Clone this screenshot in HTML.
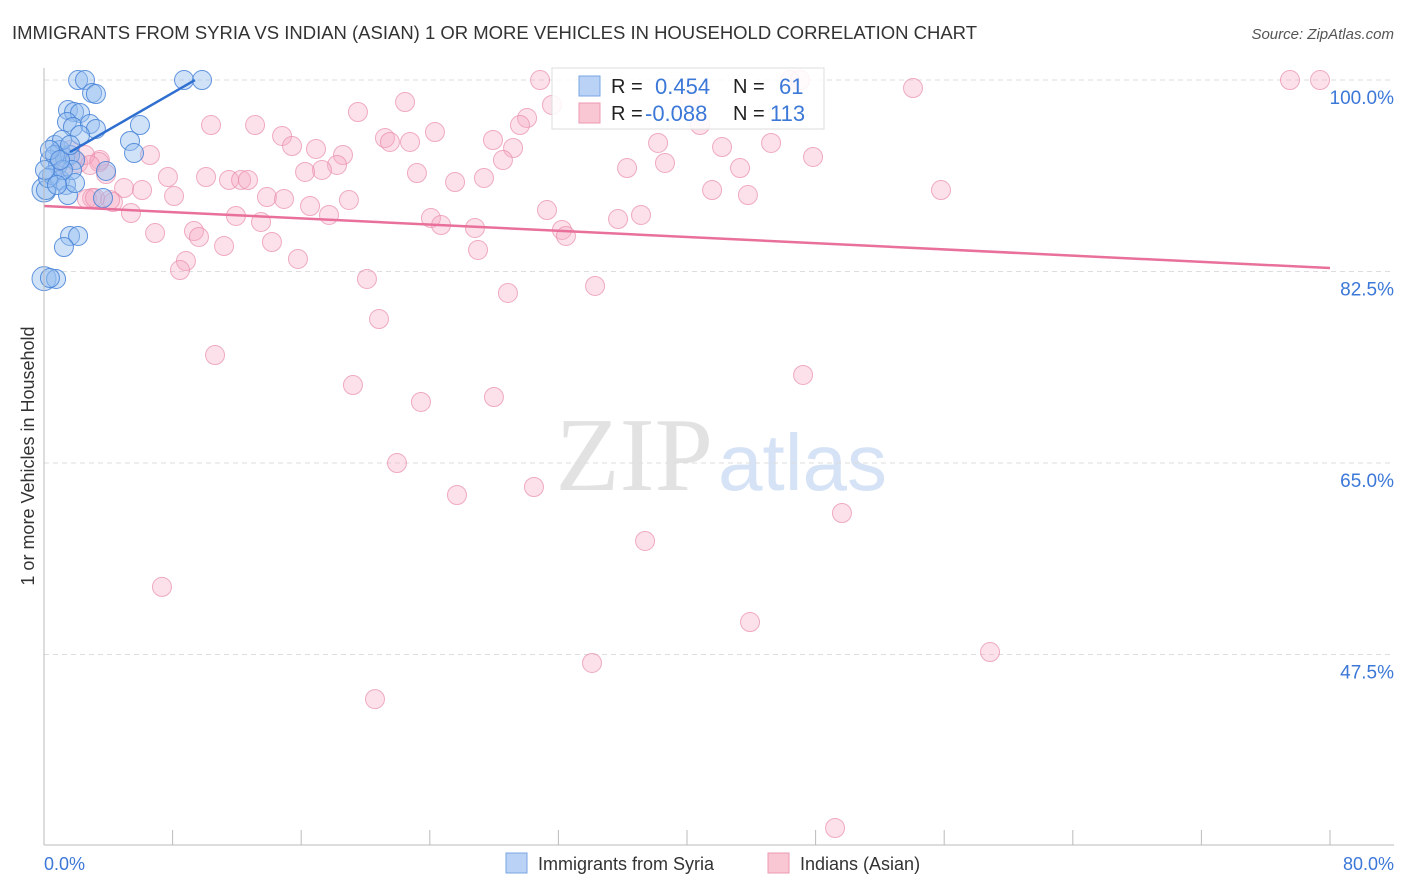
<!DOCTYPE html>
<html><head><meta charset="utf-8"><style>
body{margin:0;background:#fff;font-family:"Liberation Sans",sans-serif;}
#c{position:relative;width:1406px;height:892px;overflow:hidden}
</style></head><body>
<div id="c">
<svg id="s" width="1406" height="892" xmlns="http://www.w3.org/2000/svg">
<text x="12" y="39" font-size="18" fill="#333" textLength="965" lengthAdjust="spacingAndGlyphs">IMMIGRANTS FROM SYRIA VS INDIAN (ASIAN) 1 OR MORE VEHICLES IN HOUSEHOLD CORRELATION CHART</text>
<text x="1394" y="39" font-size="15" fill="#555" font-style="italic" text-anchor="end">Source: ZipAtlas.com</text>
<text transform="translate(34,456) rotate(-90)" font-size="18" fill="#333" text-anchor="middle">1 or more Vehicles in Household</text>
<text x="713" y="490" font-size="105" fill="#e2e2e2" text-anchor="end" font-family="Liberation Serif,serif">ZIP</text>
<text x="718" y="490" font-size="80" fill="#d6e3f6">atlas</text>
<g id="grid"></g><g id="pts"></g><g id="lines"></g>
<line x1="44" y1="68" x2="44" y2="845" stroke="#bbb"/>
<line x1="44" y1="845" x2="1394" y2="845" stroke="#bbb"/>
<text x="44" y="870" font-size="18" fill="#3c78d8">0.0%</text>
<text x="1394" y="870" font-size="18" fill="#3c78d8" text-anchor="end">80.0%</text>
<g>
<rect x="552" y="68" width="272" height="61" fill="#fff" fill-opacity="0.85" stroke="#ddd"/>
<rect x="579" y="76" width="21" height="20" fill="#b9d2f5" stroke="#7aa5e3"/>
<rect x="579" y="103" width="21" height="20" fill="#f9c6d4" stroke="#ee9ab2"/>
<text x="611" y="93" font-size="20" fill="#222">R =</text><text x="655" y="94" font-size="22" fill="#3c78d8">0.454</text>
<text x="733" y="93" font-size="20" fill="#222">N =</text><text x="779" y="94" font-size="22" fill="#3c78d8">61</text>
<text x="611" y="120" font-size="20" fill="#222">R =</text><text x="645" y="121" font-size="22" fill="#3c78d8">-0.088</text>
<text x="733" y="120" font-size="20" fill="#222">N =</text><text x="770" y="121" font-size="22" fill="#3c78d8">113</text>
</g>
<g>
<rect x="506" y="853" width="21" height="20" fill="#b9d2f5" stroke="#7aa5e3"/>
<text x="538" y="870" font-size="18" fill="#333">Immigrants from Syria</text>
<rect x="768" y="853" width="21" height="20" fill="#f9c6d4" stroke="#ee9ab2"/>
<text x="800" y="870" font-size="18" fill="#333">Indians (Asian)</text>
</g>
</svg>
</div>
<script>
const yTicks=[100,82.5,65,47.5];
const yTickLabels=["100.0%","82.5%","65.0%","47.5%"];
const xTicks=[0,8,16,24,32,40,48,56,64,72,80];
const blueX=[2.12,2.55,8.71,9.83,2.99,3.23,1.49,1.87,2.24,1.43,1.80,2.86,3.23,2.24,5.97,5.35,5.60,3.86,3.67,1.62,2.12,1.24,0.12,0.75,0.37,0.68,1.00,0.37,0.87,1.31,1.62,1.93,0.50,1.00,1.37,1.74,1.12,0.25,0.68,1.49,1.93,1.18,0.81,0.37,0.06,1.00,1.62];
const blueY=[101.55,101.55,101.55,101.55,100.37,100.27,98.81,98.63,98.54,97.72,97.26,97.53,97.08,96.53,97.44,95.98,94.88,93.24,90.77,87.30,87.30,86.29,91.50,83.37,83.46,95.61,95.16,94.24,93.79,94.43,94.70,94.24,92.87,92.42,91.96,93.33,96.07,92.60,94.70,91.04,92.14,93.33,91.96,95.16,93.33,94.24,95.61];
const blueBigX=[0,0];
const blueBigY=[91.5,83.4];
const pinkX=[30.86,46.41,47.03,77.51,79.38,54.06,22.46,19.53,40.19,31.60,30.05,29.61,10.39,13.13,24.32,21.21,21.52,22.77,14.81,15.43,16.92,18.60,18.23,17.29,16.24,6.59,3.48,3.86,7.71,10.08,11.51,12.26,12.69,23.20,25.57,27.37,27.93,29.18,28.55,38.20,38.63,42.18,43.30,45.23,47.84,36.27,41.56,43.79,55.80,4.98,6.10,8.09,2.99,2.67,4.29,5.41,13.87,14.93,16.55,17.73,18.97,11.94,13.50,24.07,24.70,26.81,31.29,32.22,32.47,35.71,37.14,6.91,9.33,9.64,11.20,14.18,15.80,8.83,8.46,27.00,20.09,28.86,34.28,20.84,10.64,47.22,19.22,23.45,27.99,21.96,25.69,30.48,49.64,37.39,7.34,43.92,34.09,58.85,20.59,49.21,4.11,3.42,2.12,2.55,1.00,1.62,1.24,2.86,3.17,40.81];
const pinkY=[101.55,101.55,101.55,101.55,101.55,100.82,99.54,98.63,99.73,99.27,98.08,97.44,97.44,97.44,96.80,96.25,95.89,95.89,96.44,95.52,95.25,94.70,93.79,93.33,93.15,94.70,94.24,92.96,92.69,92.69,92.42,92.42,92.42,93.05,92.23,92.60,96.07,95.34,94.24,95.80,93.97,95.43,93.51,95.80,94.52,93.51,91.50,91.04,91.50,91.68,91.50,90.95,90.77,90.68,90.40,89.40,90.86,90.68,90.04,89.22,90.59,89.13,88.58,88.94,88.30,88.03,89.67,87.85,87.30,88.85,89.22,87.57,87.75,87.21,86.38,86.75,85.20,85.01,84.19,86.02,83.37,82.09,82.73,79.71,76.42,74.60,73.68,72.13,72.58,66.55,63.63,64.36,61.98,59.43,55.23,52.02,48.28,49.28,44.98,33.20,90.59,94.06,93.97,94.70,94.24,95.16,93.79,93.79,90.77,97.44];
const blueFit=[1.62,94.97,9.39,101.55];
const pinkFit=[0,90.04,80,84.37];
const NS='http://www.w3.org/2000/svg';
function xS(v){return 44+v*16.075;}
function yS(v){return 97+(100-v)*10.943;}
function mk(t,a,p){const e=document.createElementNS(NS,t);for(const k in a)e.setAttribute(k,a[k]);p.appendChild(e);return e;}
const grid=document.getElementById('grid'),pts=document.getElementById('pts'),lines=document.getElementById('lines');
yTicks.forEach((t,i)=>{
 const l=mk('line',{x1:44,x2:1394,y1:yS(t)-17,y2:yS(t)-17,stroke:'#ddd','stroke-dasharray':'5,4'},grid);
 
 
 const tx=mk('text',{x:1394,y:yS(t)+7,'font-size':19,fill:'#3c78d8','text-anchor':'end'},grid);
 tx.textContent=yTickLabels[i];
 
 
});
xTicks.forEach(t=>{
 const l=mk('line',{x1:xS(t),x2:xS(t),y1:830,y2:845,stroke:'#bbb'},grid);
 
 
});
pinkX.forEach((x,i)=>{
 const c=mk('circle',{cx:xS(x),cy:yS(pinkY[i]),r:9.5,fill:'rgba(246,170,195,0.35)',stroke:'rgba(232,140,170,0.7)','stroke-width':1},pts);
 
 
});
blueBigX.forEach((x,i)=>{
 const c=mk('circle',{cx:xS(x),cy:yS(blueBigY[i]),r:12,fill:'rgba(150,190,240,0.45)',stroke:'rgba(70,130,215,0.85)','stroke-width':1},pts);
 
 
});
blueX.forEach((x,i)=>{
 const c=mk('circle',{cx:xS(x),cy:yS(blueY[i]),r:9.5,fill:'rgba(150,190,240,0.45)',stroke:'rgba(70,130,215,0.85)','stroke-width':1},pts);
 
 
});
const bl=mk('line',{x1:xS(blueFit[0]),y1:yS(blueFit[1]),x2:xS(blueFit[2]),y2:yS(blueFit[3]),stroke:'#2f6fd0','stroke-width':2.5},lines);


const pl=mk('line',{x1:xS(pinkFit[0]),y1:yS(pinkFit[1]),x2:xS(pinkFit[2]),y2:yS(pinkFit[3]),stroke:'#e8709a','stroke-width':2.5},lines);


</script>
</body></html>
